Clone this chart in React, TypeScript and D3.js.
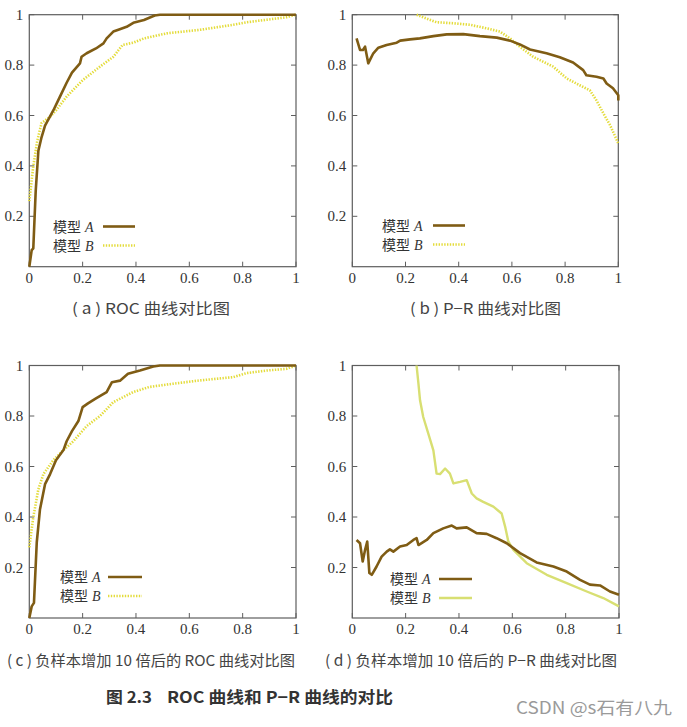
import React from "react";
import * as d3 from "d3";

type Pt = [number, number];

// ---- data ----
const xTicks = [0, 0.2, 0.4, 0.6, 0.8, 1];
const yTicks = [0.2, 0.4, 0.6, 0.8, 1];
const legendLabels = ["模型", "模型"];
const legendSeries = ["A", "B"];

const rocA: Pt[] = [
  [0, 0], [0.009, 0.066], [0.015, 0.073], [0.024, 0.3], [0.034, 0.46], [0.045, 0.51],
  [0.059, 0.56], [0.09, 0.62], [0.115, 0.675], [0.14, 0.73], [0.16, 0.77], [0.19, 0.807],
  [0.196, 0.833], [0.215, 0.847], [0.25, 0.866], [0.278, 0.886], [0.29, 0.906], [0.315, 0.933],
  [0.334, 0.94], [0.365, 0.952], [0.39, 0.968], [0.43, 0.979], [0.47, 0.997], [0.49, 1], [1, 1],
];
const rocB: Pt[] = [
  [0, 0.26], [0.015, 0.4], [0.03, 0.5], [0.046, 0.57], [0.078, 0.595], [0.1, 0.62],
  [0.14, 0.675], [0.2, 0.74], [0.265, 0.794], [0.315, 0.833], [0.35, 0.88], [0.39, 0.889],
  [0.43, 0.906], [0.515, 0.926], [0.64, 0.94], [0.765, 0.96], [0.815, 0.97], [0.89, 0.98],
  [0.965, 0.99], [1, 1],
];
const prA: Pt[] = [
  [0.016, 0.906], [0.029, 0.86], [0.04, 0.86], [0.048, 0.873], [0.06, 0.807], [0.066, 0.82],
  [0.079, 0.847], [0.098, 0.869], [0.129, 0.88], [0.154, 0.886], [0.167, 0.889], [0.18, 0.897],
  [0.217, 0.902], [0.254, 0.906], [0.305, 0.915], [0.355, 0.922], [0.417, 0.923], [0.48, 0.915],
  [0.543, 0.909], [0.593, 0.897], [0.63, 0.882], [0.668, 0.862], [0.73, 0.847], [0.78, 0.831],
  [0.83, 0.81], [0.868, 0.78], [0.88, 0.76], [0.918, 0.754], [0.944, 0.747], [0.956, 0.727],
  [0.98, 0.708], [1, 0.68], [1, 0.66],
];
const prB: Pt[] = [
  [0.242, 1], [0.29, 0.98], [0.317, 0.97], [0.38, 0.966], [0.442, 0.96], [0.505, 0.946],
  [0.555, 0.933], [0.593, 0.906], [0.63, 0.873], [0.68, 0.833], [0.755, 0.794], [0.806, 0.747],
  [0.855, 0.72], [0.893, 0.7], [0.918, 0.66], [0.944, 0.608], [0.969, 0.562], [1, 0.489],
];
const rocA10: Pt[] = [
  [0, 0], [0.009, 0.046], [0.0175, 0.06], [0.028, 0.3], [0.04, 0.43], [0.059, 0.53],
  [0.078, 0.57], [0.1, 0.625], [0.128, 0.665], [0.14, 0.7], [0.16, 0.74], [0.184, 0.78],
  [0.2, 0.835], [0.22, 0.85], [0.25, 0.87], [0.29, 0.895], [0.31, 0.934], [0.34, 0.94],
  [0.37, 0.967], [0.415, 0.98], [0.465, 0.996], [0.49, 1], [1, 1],
];
const rocB10: Pt[] = [
  [0, 0.28], [0.015, 0.4], [0.034, 0.51], [0.053, 0.57], [0.09, 0.625], [0.128, 0.665],
  [0.165, 0.7], [0.215, 0.76], [0.265, 0.8], [0.315, 0.855], [0.39, 0.895], [0.45, 0.915],
  [0.54, 0.928], [0.64, 0.941], [0.765, 0.954], [0.815, 0.97], [0.89, 0.98], [0.965, 0.987], [1, 1],
];
const prA10: Pt[] = [
  [0.016, 0.309], [0.029, 0.296], [0.039, 0.224], [0.048, 0.27], [0.056, 0.303], [0.064, 0.178],
  [0.073, 0.171], [0.091, 0.204], [0.11, 0.243], [0.129, 0.263], [0.141, 0.272], [0.154, 0.263],
  [0.179, 0.283], [0.204, 0.289], [0.229, 0.309], [0.241, 0.316], [0.248, 0.289], [0.279, 0.309],
  [0.304, 0.336], [0.341, 0.355], [0.373, 0.366], [0.391, 0.355], [0.429, 0.359], [0.466, 0.336],
  [0.504, 0.333], [0.541, 0.316], [0.579, 0.296], [0.629, 0.257], [0.691, 0.22], [0.754, 0.204],
  [0.804, 0.184], [0.854, 0.151], [0.891, 0.132], [0.929, 0.129], [0.966, 0.105], [1, 0.092],
];
const prB10: Pt[] = [
  [0.241, 1], [0.248, 0.928], [0.254, 0.862], [0.266, 0.796], [0.285, 0.73], [0.304, 0.664],
  [0.316, 0.572], [0.329, 0.57], [0.348, 0.592], [0.366, 0.572], [0.379, 0.533], [0.404, 0.539],
  [0.429, 0.546], [0.448, 0.493], [0.466, 0.474], [0.491, 0.46], [0.529, 0.441], [0.56, 0.414],
  [0.573, 0.362], [0.585, 0.303], [0.604, 0.27], [0.654, 0.217], [0.729, 0.171], [0.804, 0.138],
  [0.879, 0.105], [0.941, 0.079], [1, 0.046],
];

const captions = [
  "( a ) ROC 曲线对比图",
  "( b ) P−R 曲线对比图",
  "( c ) 负样本增加 10 倍后的 ROC 曲线对比图",
  "( d ) 负样本增加 10 倍后的 P−R 曲线对比图",
];
const figNumber = "图 2.3";
const figTitle = "ROC 曲线和 P−R 曲线的对比";
const watermark = "CSDN @s石有八九";

const colA = "#7f5c14";
const colB = "#e4dc3c";
const colB2 = "#d8df72";

type PanelProps = {
  left: number; top: number; w: number; h: number;
  a: Pt[]; b: Pt[];
  legX: number; legY: number; legLine: [number, number];
  bSolid?: boolean;
};

function Panel({ left, top, w, h, a, b, legX, legY, legLine, bSolid }: PanelProps) {
  const x = d3.scaleLinear().domain([0, 1]).range([left, left + w]);
  const y = d3.scaleLinear().domain([0, 1]).range([top + h, top]);
  const line = d3.line<Pt>().x((d) => x(d[0])).y((d) => y(d[1]));
  const frame = "#5e5e5e";
  const tl = 5;
  const bStyle = bSolid
    ? { stroke: colB2, strokeWidth: 2.4 }
    : { stroke: colB, strokeWidth: 2.6, strokeDasharray: "1.4,1.4" };
  return (
    <g>
      <rect x={left} y={top} width={w} height={h} fill="none" stroke={frame} strokeWidth={1.2} />
      {xTicks.map((t) => (
        <g key={"x" + t}>
          <line x1={x(t)} x2={x(t)} y1={top + h} y2={top + h - tl} stroke={frame} />
          <line x1={x(t)} x2={x(t)} y1={top} y2={top + tl} stroke={frame} />
          <text x={x(t)} y={top + h + 16} textAnchor="middle" fontFamily="'Liberation Serif', serif" fontSize={15} fill="#333">
            {d3.format("")(t)}
          </text>
        </g>
      ))}
      {yTicks.map((t) => (
        <g key={"y" + t}>
          <line x1={left} x2={left + tl} y1={y(t)} y2={y(t)} stroke={frame} />
          <line x1={left + w} x2={left + w - tl} y1={y(t)} y2={y(t)} stroke={frame} />
          <text x={left - 6} y={y(t) + 5} textAnchor="end" fontFamily="'Liberation Serif', serif" fontSize={15} fill="#333">
            {d3.format("")(t)}
          </text>
        </g>
      ))}
      <path d={line(b) || ""} fill="none" {...bStyle} strokeLinejoin="round" />
      <path d={line(a) || ""} fill="none" stroke={colA} strokeWidth={2.6} strokeLinejoin="round" />
      {legendSeries.map((s, i) => (
        <g key={s}>
          <text x={legX} y={legY + i * 19 + 5} fontFamily="'Noto Sans CJK SC', serif" fontSize={14} fill="#333">
            {legendLabels[i]}
            <tspan fontFamily="'Liberation Serif', serif" fontStyle="italic" dx={4}>{s}</tspan>
          </text>
          <line
            x1={legLine[0]} x2={legLine[1]} y1={legY + i * 19} y2={legY + i * 19}
            {...(i === 0 ? { stroke: colA, strokeWidth: 2.6 } : bStyle)}
          />
        </g>
      ))}
    </g>
  );
}

export default function App() {
  return (
    <svg width={687} height={727} style={{ position: "absolute", left: 0, top: 0, background: "#fff" }}>
      <rect width={687} height={727} fill="#fff" />
      <Panel left={29.3} top={14.7} w={266.7} h={252} a={rocA} b={rocB} legX={53} legY={226.5} legLine={[103, 135]} />
      <Panel left={352.3} top={14.7} w={266} h={252} a={prA} b={prB} legX={382} legY={225.5} legLine={[433, 465]} />
      <Panel left={29.3} top={365.5} w={266.7} h={252.5} a={rocA10} b={rocB10} legX={60} legY={577} legLine={[108, 142]} />
      <Panel left={352.3} top={365.5} w={266.7} h={252.5} a={prA10} b={prB10} legX={390} legY={579} legLine={[439, 472]} bSolid />
      <g fontFamily="'Noto Sans CJK SC', sans-serif" fill="#444" fontSize={15}>
        <text x={72} y={313.5} textLength={158} lengthAdjust="spacingAndGlyphs">{captions[0]}</text>
        <text x={410} y={313.5} textLength={151} lengthAdjust="spacingAndGlyphs">{captions[1]}</text>
        <text x={7} y={665.5} textLength={288} lengthAdjust="spacingAndGlyphs">{captions[2]}</text>
        <text x={325} y={665.5} textLength={292} lengthAdjust="spacingAndGlyphs">{captions[3]}</text>
      </g>
      <g fontFamily="'Noto Sans CJK SC', sans-serif" fontWeight="bold" fontSize={16} fill="#333">
        <text x={106} y={702.5} textLength={46} lengthAdjust="spacingAndGlyphs">{figNumber}</text>
        <text x={167} y={702.5} textLength={226} lengthAdjust="spacingAndGlyphs">{figTitle}</text>
      </g>
      <text x={516} y={714} fontFamily="'Noto Sans CJK SC', sans-serif" fontSize={17} fill="#9a9a9a" textLength={156} lengthAdjust="spacingAndGlyphs">
        {watermark}
      </text>
    </svg>
  );
}
